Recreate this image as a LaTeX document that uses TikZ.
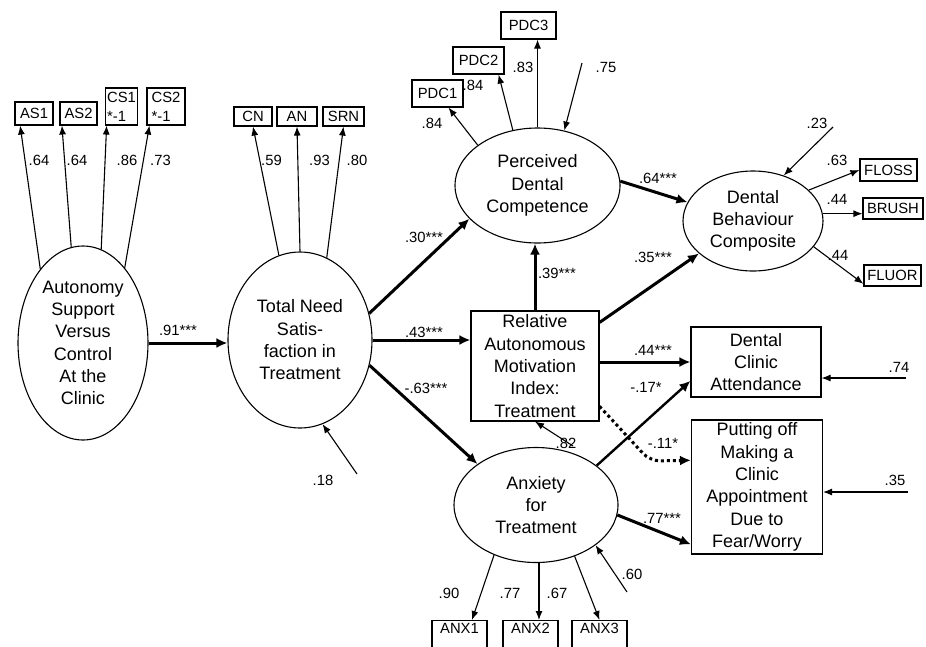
\documentclass[tikz,border=0pt]{standalone}
\usepackage{fontspec}
\setmainfont{Liberation Sans}
\usepackage{tikz}
\usetikzlibrary{shapes.geometric}
\usetikzlibrary{arrows.meta}

\newcommand{\bigtxt}{\fontsize{18}{22.3}\selectfont}
\newcommand{\smalltxt}{\fontsize{14.8}{19}\selectfont}

\tikzset{
	latent/.style={ellipse, draw, line width=1.1pt, inner sep=0pt, align=center, font=\bigtxt},
	outcome/.style={rectangle, draw, line width=1.1pt, inner sep=0pt, align=center, font=\bigtxt},
	indic/.style={rectangle, draw, line width=1.1pt, inner sep=2pt, font=\smalltxt, minimum height=23pt},
	coef/.style={font=\smalltxt, inner sep=0pt},
	loading/.style={-{Latex[length=9pt,width=7pt]}, line width=1.1pt},
	effect/.style={-{Latex[length=11pt,width=10pt]}, line width=3pt},
}

\begin{document}
\begin{tikzpicture}[x=1pt, y=-1pt]
	\useasboundingbox (0,0) rectangle (926,646);
	\clip (0,0) rectangle (926,646);
	% latent variables
	\node [latent, minimum width=130pt, minimum height=194pt] (asc) at (83,343) {Autonomy\\Support\\Versus\\Control\\At the\\Clinic};
	\node [latent, minimum width=144pt, minimum height=176pt] (tns) at (300,340) {Total Need\\Satis-\\faction in\\Treatment};
	\node [latent, minimum width=165pt, minimum height=115pt] (pdc) at (537.5,185.5) {Perceived\\Dental\\Competence};
	\node [latent, minimum width=140pt, minimum height=100pt] (dbc) at (753,221) {Dental\\Behaviour\\Composite};
	\node [latent, minimum width=164pt, minimum height=115pt] (anx) at (536,505) {Anxiety\\for\\Treatment};
	% observed outcomes
	\node [outcome, minimum width=128pt, minimum height=110pt] (ram) at (535,366) {Relative\\Autonomous\\Motivation\\Index:\\Treatment};
	\node [outcome, minimum width=130pt, minimum height=70pt] (dca) at (756,362) {Dental\\Clinic\\Attendance};
	\node [outcome, minimum width=131pt, minimum height=134pt] (put) at (757,487) {Putting off\\Making a\\Clinic\\Appointment\\Due to\\Fear/Worry};
	% indicators
	\node [indic, minimum width=38pt] (as1) at (34,113.5) {AS1};
	\node [indic, minimum width=37pt] (as2) at (78.5,113.5) {AS2};
	\node [indic, minimum width=31pt, minimum height=37pt, align=left] (cs1) at (121.5,106.5) {CS1\\*-1};
	\node [indic, minimum width=38pt, minimum height=37pt, align=left] (cs2) at (166,106.5) {CS2\\*-1};
	\node [indic, minimum width=38pt, minimum height=19pt] (cn) at (253,116.5) {CN};
	\node [indic, minimum width=40pt, minimum height=19pt] (an) at (297,116.5) {AN};
	\node [indic, minimum width=41pt, minimum height=19pt] (srn) at (343.5,116.5) {SRN};
	\node [indic, minimum width=51pt, minimum height=27pt] (pdc1) at (437.5,93.5) {PDC1};
	\node [indic, minimum width=51pt, minimum height=27pt] (pdc2) at (478.5,60.5) {PDC2};
	\node [indic, minimum width=55pt, minimum height=27pt] (pdc3) at (528.5,25.5) {PDC3};
	\node [indic, minimum width=57pt, minimum height=22pt] (floss) at (888.5,170) {FLOSS};
	\node [indic, minimum width=60pt, minimum height=21pt] (brush) at (893,208.5) {BRUSH};
	\node [indic, minimum width=57pt, minimum height=21pt] (fluor) at (892.5,275.5) {FLUOR};
	\node [indic, minimum width=55pt, text height=11pt, text depth=30pt, anchor=north] (anx1) at (459.5,620) {ANX1};
	\node [indic, minimum width=55pt, text height=11pt, text depth=30pt, anchor=north] (anx2) at (530.5,620) {ANX2};
	\node [indic, minimum width=55pt, text height=11pt, text depth=30pt, anchor=north] (anx3) at (599.5,620) {ANX3};
	% error terms
	\coordinate (e18) at (357,474);
	\coordinate (e75) at (582,63);
	\coordinate (e23) at (833,127);
	\coordinate (e74) at (906,378);
	\coordinate (e35) at (908,492);
	\coordinate (e82) at (573,446);
	\coordinate (e60) at (627,592);
	\coordinate (bend) at (650,461);

	% measurement part
	\draw [loading] (asc.120) -- (as1.221.5);
	\draw [loading] (asc.97.6) -- (as2.216.6);
	\draw [loading] (asc.79.4) -- (cs1.232);
	\draw [loading] (asc.61.4) -- (cs2.229);
	\draw [loading] (tns.104.5) -- (cn.south);
	\draw [loading] (tns.north) -- (an.south);
	\draw [loading] (tns.72.2) -- (srn.south);
	\draw [loading] (pdc.146.2) -- (pdc1.308);
	\draw [loading] (pdc.114.3) -- (pdc2.325);
	\draw [loading] (pdc.north) -- (pdc.north |- pdc3.south);
	\draw [loading] (dbc.29.3) -- (floss.west);
	\draw [loading] (dbc.6) -- (dbc.6 -| brush.west);
	\draw [loading] (dbc.337.2) -- (fluor.196);
	\draw [loading] (anx.230.6) -- ([xshift=12.5pt]anx1.north);
	\draw [loading] ([xshift=3pt]anx.south) -- ([xshift=8.5pt]anx2.north);
	\draw [loading] (anx.307.9) -- (anx3.north);
	% residuals
	\draw [loading] (e18) -- (tns.285.7);
	\draw [loading] (e75) -- (pdc.64.1);
	\draw [loading] (e23) -- (dbc.56.9);
	\draw [loading] (e74) -- (e74 -| dca.east);
	\draw [loading] (e35) -- (e35 -| put.east);
	\draw [loading] (e82) -- (ram.south);
	\draw [loading] (e60) -- (anx.326.1);
	% structural paths
	\draw [effect] (asc.east) -- (asc.east -| tns.west);
	\draw [effect] (tns.21.1) -- (pdc.206.4);
	\draw [effect] (tns.east) -- (tns.east -| ram.west);
	\draw [effect] (tns.340.3) -- (anx.145.9);
	\draw [effect] (ram.north) -- (ram.north |- pdc.south);
	\draw [effect] (pdc.3) -- (dbc.164.4);
	\draw [effect] (ram.34.5) -- (dbc.211.1);
	\draw [effect] (dca.west -| ram.east) -- (dca.west);
	\draw [effect, line width=2.4pt] (anx.33.9) -- (dca.196);
	\draw [effect, line width=3pt, dash pattern=on 3pt off 3pt, rounded corners=10pt] (ram.328.6) -- (bend) -- (put.158.4);
	\draw [effect] (anx.353) -- (put.221.4);

	% coefficients
	\node [coef] (la1) at (39,160) {.64};
	\node [coef] (la2) at (77,160) {.64};
	\node [coef] (lc1) at (127,160) {.86};
	\node [coef] (lc2) at (160.5,160) {.73};
	\node [coef] (lcn) at (271.5,160) {.59};
	\node [coef] (lan) at (319.5,160) {.93};
	\node [coef] (lsrn) at (357,160) {.80};
	\node [coef] (lp1) at (432,123) {.84};
	\node [coef] (lp2) at (473,85) {.84};
	\node [coef] (lp3) at (523,67) {.83};
	\node [coef] (lfl) at (837,160) {.63};
	\node [coef] (lbr) at (837,199) {.44};
	\node [coef] (lfu) at (838,255) {.44};
	\node [coef] (lx1) at (449,593) {.90};
	\node [coef] (lx2) at (510,593) {.77};
	\node [coef] (lx3) at (557,593) {.67};
	\node [coef] (le18) at (323,480) {.18};
	\node [coef] (le75) at (606,67) {.75};
	\node [coef] (le23) at (817,123) {.23};
	\node [coef] (le74) at (899,367) {.74};
	\node [coef] (le35) at (895,480) {.35};
	\node [coef] (le82) at (566,443) {.82};
	\node [coef] (le60) at (632,574) {.60};
	\node [coef] (l91) at (178,330) {.91***};
	\node [coef] (l30) at (424,237) {.30***};
	\node [coef] (l43) at (424,332) {.43***};
	\node [coef] (l63) at (426,388) {-.63***};
	\node [coef] (l39) at (557,273) {.39***};
	\node [coef] (l64) at (658,178) {.64***};
	\node [coef] (l35) at (653,257) {.35***};
	\node [coef] (l44) at (653,350) {.44***};
	\node [coef] (l17) at (646,387) {-.17*};
	\node [coef] (l11) at (663,443) {-.11*};
	\node [coef] (l77) at (662,518) {.77***};
\end{tikzpicture}
\end{document}
